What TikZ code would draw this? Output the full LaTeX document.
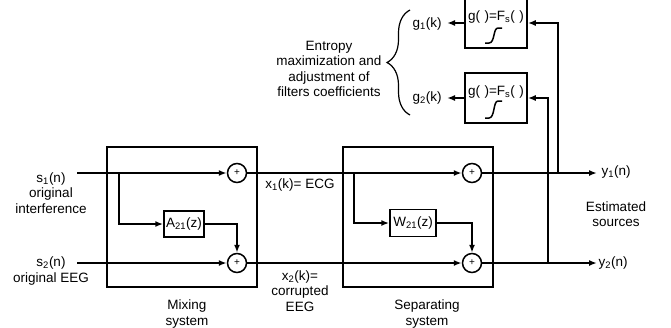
\documentclass[tikz,border=0pt]{standalone}
\usepackage{fontspec}
\setmainfont{Liberation Sans}
\usetikzlibrary{arrows.meta,decorations.pathreplacing}
\newcommand{\sbs}[1]{\textsubscript{#1}}
\begin{document}
\begin{tikzpicture}[x=1pt,y=-1pt,
  font=\fontsize{13.5}{15.5}\selectfont,
  arr/.style={line width=1.6pt,-{Latex[length=8pt,width=6pt]}},
  bigbox/.style={draw,line width=2.7pt,minimum width=150pt,minimum height=140pt,inner sep=0pt},
  fbox/.style={draw,line width=1.5pt,inner sep=0pt},
  gbox/.style={draw,line width=1.5pt,inner sep=0pt,minimum width=62pt,minimum height=50pt},
  sumc/.style={draw,circle,line width=1.5pt,minimum size=19pt,inner sep=0pt,font=\fontsize{10}{10}\selectfont},
  lbl/.style={align=center,inner sep=0pt},
  sig/.style={line width=1.5pt}]
\useasboundingbox (0,0) rectangle (671,327);

% big boxes
\node[bigbox] (mix) at (182,217) {};
\node[bigbox] (sep) at (418,217) {};

% summing junctions
\node[sumc] (m1) at (237,173) {+};
\node[sumc] (m2) at (237,263) {+};
\node[sumc] (s1) at (472,173) {+};
\node[sumc] (s2) at (472,263) {+};

% filter boxes
\node[fbox,minimum width=40pt,minimum height=26pt] (A) at (184,224) {A\sbs{21}(z)};
\node[fbox,minimum width=46pt,minimum height=27pt] (W) at (413,223) {W\sbs{21}(z)};

% nonlinearity boxes
\node[gbox] (g1) at (496,23) {};
\node[gbox] (g2) at (496,98) {};
\node[inner sep=0pt] (g1t) at (496,17) {g(\,\,)=F\sbs{s}(\,\,)};
\node[inner sep=0pt] (g2t) at (496,92) {g(\,\,)=F\sbs{s}(\,\,)};
\draw[sig,shift={(g1.center)}] (-11,20) -- (-7,20) .. controls (-1,20) and (-3,5) .. (2,5) -- (6,5);
\draw[sig,shift={(g2.center)}] (-11,20) -- (-7,20) .. controls (-1,20) and (-3,3) .. (2,3) -- (6,3);

% coordinates
\coordinate (in1) at (77,173);
\coordinate (in2) at (77,263);
\coordinate (b1) at (119,173);
\coordinate (b2) at (354,173);
\coordinate (out1) at (597,173);
\coordinate (out2) at (597,263);
\coordinate (f1) at (558,173);
\coordinate (f2) at (548,263);
\coordinate (g1o) at (447,23);
\coordinate (g2o) at (447,98);

% connections
\draw[arr] (in1) -- (m1);
\draw[arr] (b1) |- (A.west);
\draw[arr] (A.east) -| (m2.north);
\draw[arr] (in2) -- (m2);
\draw[arr] (m1) -- (s1);
\draw[arr] (b2) |- (W.west);
\draw[arr] (W.east) -| (s2.north);
\draw[arr] (m2) -- (s2);
\draw[arr] (s1) -- (out1);
\draw[arr] (s2) -- (out2);
\draw[arr] (f1) |- (g1.east);
\draw[arr] (f2) |- (g2.east);
\draw[arr] (g1.west) -- (g1o);
\draw[arr] (g2.west) -- (g2o);

% brace
\draw[line width=1.2pt,decorate,decoration={brace,amplitude=23pt}] (410,115) -- (410,10);

% labels
\node[lbl] (ls1) at (51,193) {s\sbs{1}(n)\\original\\interference};
\node[lbl] (ls2) at (51,271) {s\sbs{2}(n)\\original EEG};
\node[lbl] (lx1) at (300,185) {x\sbs{1}(k)= ECG};
\node[lbl] (lx2) at (300,291) {x\sbs{2}(k)=\\corrupted\\EEG};
\node[lbl] (lmix) at (187,314) {Mixing\\system};
\node[lbl] (lsep) at (427,314) {Separating\\system};
\node[lbl] (lest) at (616,214) {Estimated\\sources};
\node[lbl] (ly1) at (616,172) {y\sbs{1}(n)};
\node[lbl] (ly2) at (613,263) {y\sbs{2}(n)};
\node[lbl] (lg1) at (427,24) {g\sbs{1}(k)};
\node[lbl] (lg2) at (427,98) {g\sbs{2}(k)};
\node[lbl] (lent) at (329,69) {Entropy\\maximization and\\adjustment of\\filters coefficients};
\end{tikzpicture}
\end{document}
